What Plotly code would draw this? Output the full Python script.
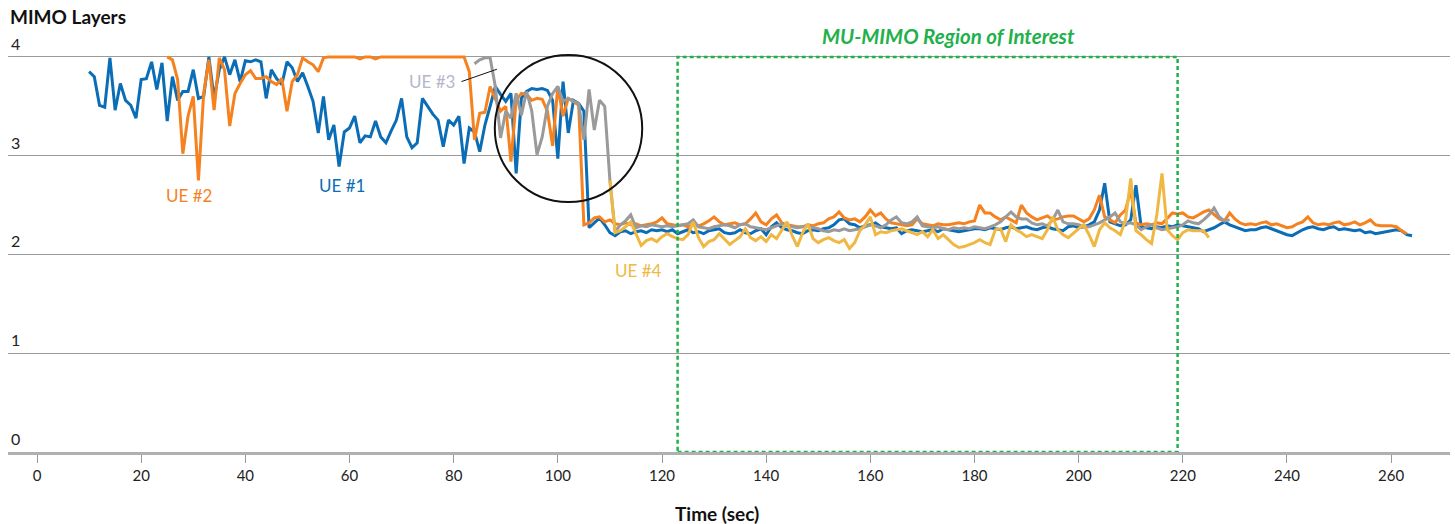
import plotly.graph_objects as go

# ---------------- data (1-second samples) ----------------
UE1_START = 10
UE1 = [3.85, 3.80, 3.51, 3.49, 3.99, 3.46, 3.73, 3.56, 3.51, 3.38,
       3.77, 3.78, 3.95, 3.67, 3.94, 3.35, 3.80, 3.56, 3.65, 3.65,
       3.87, 3.58, 3.60, 4.00, 3.58, 3.87, 4.00, 3.82, 3.97, 3.75,
       3.96, 3.95, 3.97, 3.95, 3.58, 3.87, 3.78, 3.72, 3.95, 3.89,
       3.75, 3.84, 3.70, 3.55, 3.23, 3.60, 3.16, 3.31, 2.89, 3.24,
       3.28, 3.40, 3.13, 3.20, 3.19, 3.35, 3.19, 3.13, 3.25, 3.36,
       3.58, 3.19, 3.08, 3.13, 3.58, 3.50, 3.42, 3.36, 3.09, 3.36,
       3.31, 3.40, 2.92, 3.28, 3.24, 3.04, 3.31, 3.50, 3.70, 3.62,
       3.55, 3.63, 2.82, 3.58, 3.65, 3.68, 3.67, 3.68, 3.66, 3.56,
       2.97, 3.75, 3.23, 3.56, 3.53, 3.45, 2.27, 2.32, 2.37, 2.30,
       2.22, 2.19, 2.23, 2.24, 2.21, 2.23, 2.24, 2.22, 2.25, 2.24,
       2.25, 2.23, 2.25, 2.21, 2.23, 2.25, 2.22, 2.23, 2.21, 2.24,
       2.25, 2.26, 2.22, 2.21, 2.22, 2.25, 2.22, 2.21, 2.24, 2.26,
       2.20, 2.28, 2.32, 2.27, 2.25, 2.24, 2.22, 2.21, 2.24, 2.25,
       2.24, 2.26, 2.27, 2.30, 2.35, 2.36, 2.31, 2.30, 2.27, 2.29,
       2.30, 2.32, 2.28, 2.27, 2.26, 2.27, 2.21, 2.24, 2.25, 2.24,
       2.23, 2.24, 2.25, 2.23, 2.26, 2.25, 2.24, 2.23, 2.24, 2.25,
       2.26, 2.26, 2.25, 2.27, 2.26, 2.25, 2.27, 2.28, 2.26, 2.27,
       2.28, 2.26, 2.25, 2.27, 2.28, 2.26, 2.25, 2.24, 2.28, 2.29,
       2.27, 2.28, 2.30, 2.33, 2.45, 2.72, 2.33, 2.31, 2.29, 2.30,
       2.35, 2.70, 2.28, 2.27, 2.26, 2.28, 2.27, 2.29, 2.28, 2.30,
       2.29, 2.28, 2.27, 2.26, 2.23, 2.25, 2.27, 2.30, 2.33, 2.30,
       2.28, 2.26, 2.24, 2.25, 2.25, 2.27, 2.28, 2.26, 2.24, 2.22,
       2.20, 2.19, 2.22, 2.25, 2.27, 2.28, 2.26, 2.25, 2.27, 2.28,
       2.25, 2.26, 2.25, 2.24, 2.25, 2.22, 2.23, 2.21, 2.22, 2.23,
       2.24, 2.25, 2.24, 2.20, 2.19]

UE2_START = 25
UE2 = [4.00, 3.97, 3.77, 3.02, 3.40, 3.60, 2.75, 3.63, 3.97, 3.46,
       3.99, 3.87, 3.30, 3.63, 3.73, 3.82, 3.86, 3.78, 3.78, 3.80,
       3.75, 3.72, 3.78, 3.45, 3.75, 3.82, 3.99, 3.95, 3.92, 3.85,
       3.99, 4.00, 4.00, 4.00, 4.00, 4.00, 4.00, 3.98, 4.00, 4.00,
       3.98, 4.00, 4.00, 4.00, 4.00, 4.00, 4.00, 4.00, 4.00, 4.00,
       4.00, 4.00, 4.00, 4.00, 4.00, 4.00, 4.00, 4.00, 3.85, 3.16,
       3.43, 3.44, 3.70, 3.58, 3.45, 3.50, 2.94, 3.56, 3.63, 3.62,
       3.56, 3.58, 3.57, 3.45, 3.10, 3.70, 3.40, 3.58, 3.55, 3.51,
       2.30, 2.32, 2.37, 2.38, 2.33, 2.35, 2.31, 2.30, 2.32, 2.30,
       2.31, 2.29, 2.30, 2.31, 2.33, 2.37, 2.31, 2.30, 2.29, 2.30,
       2.28, 2.30, 2.29, 2.31, 2.34, 2.38, 2.33, 2.30, 2.31, 2.32,
       2.30, 2.31, 2.36, 2.42, 2.33, 2.30, 2.36, 2.40, 2.32, 2.30,
       2.29, 2.28, 2.28, 2.30, 2.29, 2.31, 2.32, 2.36, 2.38, 2.43,
       2.37, 2.35, 2.36, 2.33, 2.38, 2.45, 2.39, 2.42, 2.36, 2.32,
       2.31, 2.30, 2.29, 2.30, 2.36, 2.31, 2.30, 2.29, 2.31, 2.30,
       2.30, 2.31, 2.32, 2.31, 2.33, 2.34, 2.50, 2.42, 2.42, 2.38,
       2.35, 2.38, 2.35, 2.32, 2.50, 2.42, 2.38, 2.35, 2.37, 2.39,
       2.35, 2.36, 2.38, 2.39, 2.39, 2.36, 2.33, 2.36, 2.45, 2.60,
       2.38, 2.35, 2.32, 2.40, 2.45, 2.65, 2.32, 2.30, 2.31, 2.30,
       2.32, 2.31, 2.36, 2.42, 2.41, 2.42, 2.38, 2.37, 2.40, 2.43,
       2.45, 2.40, 2.36, 2.34, 2.42, 2.36, 2.32, 2.30, 2.31, 2.30,
       2.32, 2.33, 2.30, 2.31, 2.29, 2.27, 2.28, 2.31, 2.33, 2.38,
       2.32, 2.30, 2.31, 2.30, 2.32, 2.33, 2.30, 2.31, 2.33, 2.30,
       2.32, 2.35, 2.30, 2.29, 2.29, 2.29, 2.28, 2.24, 2.21]

UE3_START = 84
UE3 = [3.93, 3.97, 3.99, 3.99, 3.70, 3.18, 3.45, 3.38, 3.63, 3.41,
       3.65, 3.45, 3.01, 3.19, 3.50, 3.63, 3.70, 3.55, 3.58, 3.55,
       3.53, 3.16, 3.67, 3.26, 3.56, 3.50, 2.75, 2.23, 2.30, 2.34,
       2.40, 2.27, 2.29, 2.28, 2.30, 2.29, 2.28, 2.29, 2.28, 2.29,
       2.30, 2.31, 2.35, 2.28, 2.27, 2.26, 2.28, 2.29, 2.30, 2.29,
       2.27, 2.30, 2.31, 2.28, 2.27, 2.26, 2.25, 2.27, 2.29, 2.31,
       2.29, 2.28, 2.27, 2.28, 2.29, 2.27, 2.26, 2.24, 2.23, 2.25,
       2.24, 2.26, 2.24, 2.25, 2.26, 2.28, 2.30, 2.29, 2.27, 2.30,
       2.35, 2.38, 2.32, 2.31, 2.33, 2.38, 2.29, 2.28, 2.27, 2.28,
       2.26, 2.25, 2.27, 2.26, 2.27, 2.26, 2.28, 2.27, 2.26, 2.28,
       2.30, 2.33, 2.38, 2.43, 2.38, 2.36, 2.36, 2.32, 2.30, 2.31,
       2.29, 2.35, 2.45, 2.33, 2.31, 2.31, 2.30, 2.28, 2.28, 2.30,
       2.32, 2.35, 2.38, 2.42, 2.33, 2.31, 2.32, 2.30, 2.25, 2.28,
       2.30, 2.27, 2.25, 2.26, 2.27, 2.28, 2.30, 2.34, 2.32, 2.31,
       2.35, 2.40, 2.47, 2.38, 2.34, 2.35]

UE4_START = 110
UE4 = [2.75, 2.22, 2.24, 2.28, 2.33, 2.20, 2.09, 2.14, 2.16, 2.13,
       2.18, 2.21, 2.18, 2.16, 2.15, 2.20, 2.33, 2.17, 2.08, 2.13,
       2.15, 2.21, 2.16, 2.10, 2.14, 2.18, 2.26, 2.17, 2.14, 2.18,
       2.13, 2.20, 2.16, 2.24, 2.33, 2.19, 2.08, 2.22, 2.31, 2.16,
       2.12, 2.15, 2.17, 2.14, 2.12, 2.15, 2.06, 2.12, 2.24, 2.30,
       2.38, 2.20, 2.23, 2.22, 2.24, 2.25, 2.26, 2.24, 2.22, 2.20,
       2.23, 2.18, 2.25, 2.16, 2.20, 2.15, 2.10, 2.07, 2.08, 2.10,
       2.12, 2.15, 2.12, 2.10, 2.25, 2.26, 2.13, 2.30, 2.25, 2.22,
       2.18, 2.20, 2.18, 2.16, 2.25, 2.38, 2.25, 2.20, 2.17, 2.22,
       2.26, 2.30, 2.20, 2.08, 2.25, 2.32, 2.27, 2.24, 2.20, 2.35,
       2.77, 2.24, 2.20, 2.15, 2.11, 2.40, 2.82, 2.25, 2.19, 2.15,
       2.22, 2.25, 2.24, 2.24, 2.24, 2.17]

SERIES = [
    ("UE #1", UE1_START, UE1, "#0b6db5"),
    ("UE #2", UE2_START, UE2, "#f5821f"),
    ("UE #3", UE3_START, UE3, "#9a9a9a"),
    ("UE #4", UE4_START, UE4, "#f0b843"),
]

X_TICKS = list(range(0, 261, 20))
Y_TICKS = [0, 1, 2, 3, 4]
ROI = (123, 219)  # MU-MIMO region of interest (sec)

GREEN = "#22b04b"
FONT = "Lato"

fig = go.Figure()
for name, t0, vals, col in SERIES:
    fig.add_trace(go.Scatter(
        x=[t0 + i for i in range(len(vals))], y=vals, mode="lines", name=name,
        line=dict(color=col, width=3), showlegend=False, hoverinfo="skip"))

# region of interest box
fig.add_shape(type="rect", xref="x", yref="y", x0=ROI[0], x1=ROI[1], y0=0, y1=4,
              line=dict(color=GREEN, width=2.5, dash="4px,3px"), layer="above")
# circle highlight
fig.add_shape(type="circle", xref="x", yref="y", x0=87.9, x1=116.2, y0=2.53, y1=4.02,
              line=dict(color="#111111", width=2))
# UE#3 leader line
fig.add_shape(type="line", xref="x", yref="y", x0=81.5, y0=3.75, x1=88.3, y1=3.875,
              line=dict(color="#111111", width=1))

labels = [
    ("UE #2", 29.1, 2.60, "#f5821f"),
    ("UE #1", 58.6, 2.70, "#0b6db5"),
    ("UE #3", 75.8, 3.75, "#b3b7cb"),
    ("UE #4", 115.4, 1.84, "#f0b843"),
]
for txt, x, y, c in labels:
    fig.add_annotation(x=x, y=y, xref="x", yref="y", text=txt, showarrow=False,
                       font=dict(family=FONT, size=17, color=c))

# y tick labels placed above each gridline at the left edge
for v in Y_TICKS:
    fig.add_annotation(x=0, y=v, xref="paper", yref="y", xanchor="left", yanchor="bottom",
                       xshift=1, yshift=2, text=str(v), showarrow=False,
                       font=dict(family=FONT, size=16, color="#222222"))

fig.add_annotation(x=(ROI[0] + ROI[1]) / 2 + 4, y=4, xref="x", yref="y", yshift=21,
                   text="<b><i>MU-MIMO Region of Interest</i></b>", showarrow=False,
                   font=dict(family=FONT, size=20.5, color=GREEN))
fig.add_annotation(x=0, y=1, xref="paper", yref="paper", xanchor="left", yanchor="bottom",
                   yshift=17, text="<b>MIMO Layers</b>", showarrow=False,
                   font=dict(family=FONT, size=19, color="#111111"))
fig.add_annotation(x=0.492, y=0, xref="paper", yref="paper", xanchor="center", yanchor="top",
                   yshift=-48, text="<b>Time (sec)</b>", showarrow=False,
                   font=dict(family=FONT, size=19, color="#111111"))

fig.update_layout(
    width=1455, height=524,
    margin=dict(l=8, r=5, t=47, b=72),
    paper_bgcolor="white", plot_bgcolor="white",
    font=dict(family=FONT, size=14, color="#222222"),
    xaxis=dict(range=[-5.57, 271.3], tickvals=X_TICKS, showgrid=False, zeroline=False,
               showline=True, linecolor="#b0b0b0", linewidth=2.5,
               ticks="outside", ticklen=8, tickcolor="#999999", tickwidth=1,
               tickfont=dict(family=FONT, size=15, color="#222222")),
    yaxis=dict(range=[0, 4.1], tickvals=Y_TICKS, showgrid=True, gridcolor="#9a9a9a",
               gridwidth=1, zeroline=False, showline=False, ticks="",
               showticklabels=False),
)

fig.write_html("out.html")
